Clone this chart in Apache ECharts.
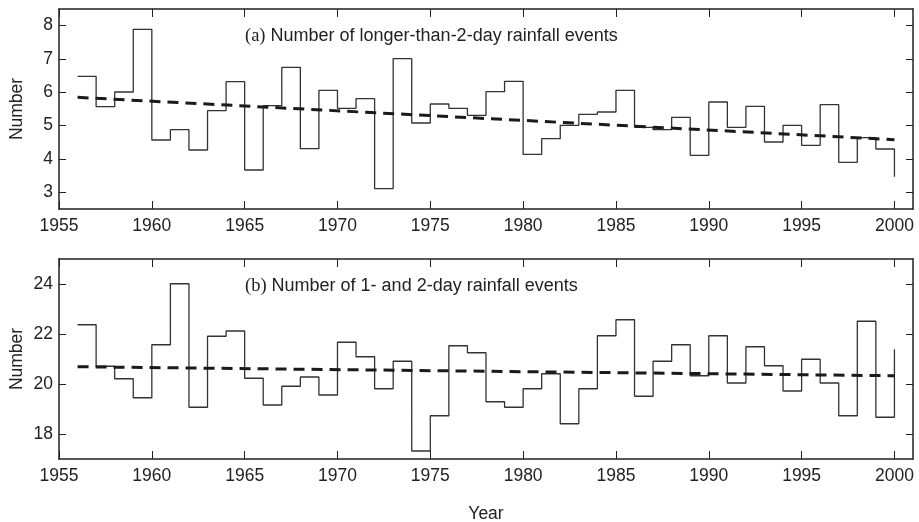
<!DOCTYPE html>
<html>
<head>
<meta charset="utf-8">
<script src="https://cdn.jsdelivr.net/npm/echarts@6/dist/echarts.min.js"></script>
<style>
html,body{margin:0;padding:0;background:#fff;}
#chart{width:919px;height:522px;}
</style>
</head>
<body>
<div id="chart"></div>
<script>
// ---- data ----
const years = [1956,1957,1958,1959,1960,1961,1962,1963,1964,1965,1966,1967,1968,1969,1970,1971,1972,1973,1974,1975,1976,1977,1978,1979,1980,1981,1982,1983,1984,1985,1986,1987,1988,1989,1990,1991,1992,1993,1994,1995,1996,1997,1998,1999,2000];
const longerEvents = [6.48,5.57,6.01,7.89,4.57,4.88,4.27,5.45,6.32,3.67,5.60,6.75,4.31,6.06,5.52,5.81,3.11,7.01,5.08,5.65,5.52,5.31,6.02,6.33,4.14,4.61,5.01,5.34,5.41,6.06,4.95,4.88,5.25,4.11,5.71,4.95,5.58,4.51,5.01,4.41,5.63,3.90,4.64,4.30,3.47];
const shortEvents = [22.37,20.71,20.21,19.45,21.57,24.01,19.07,21.91,22.12,20.23,19.16,19.91,20.28,19.56,21.67,21.09,19.81,20.91,17.32,18.73,21.53,21.25,19.29,19.07,19.81,20.41,18.41,19.81,21.93,22.57,19.51,20.91,21.57,20.33,21.93,20.04,21.49,20.73,19.72,20.99,20.04,18.73,22.51,18.67,21.39];
const trendYears = [1956, 2000];
const trendLonger = [5.85, 4.58];
const trendShort = [20.69, 20.33];
const xTicks = [1955,1960,1965,1970,1975,1980,1985,1990,1995,2000];
const yTicksA = [3,4,5,6,7,8];
const yTicksB = [18,20,22,24];
const titleA = ['(a)', 'Number of longer-than-2-day rainfall events'];
const titleB = ['(b)', 'Number of 1- and 2-day rainfall events'];

// ---- chart ----
const chart = echarts.init(document.getElementById('chart'), null, {renderer: 'canvas'});
const axisColor = '#222';
const fontFam = '"Liberation Sans", Arial, Helvetica, sans-serif';
const tickFont = 17.5;

function xAx(grid, pos, showLabels, name) {
  return {
    type: 'value', gridIndex: grid, position: pos, min: 1955, max: 2001,
    axisLine: {show: true, onZero: false, lineStyle: {color: axisColor, width: 1.5}},
    axisTick: {show: true, inside: true, length: 8, customValues: xTicks, lineStyle: {color: axisColor, width: 1}},
    axisLabel: {show: showLabels, customValues: xTicks, margin: 8, color: axisColor, fontSize: tickFont, fontFamily: fontFam,
      formatter: v => String(v)},
    splitLine: {show: false},
    name: name || '', nameLocation: 'middle', nameGap: 46, nameMoveOverlap: false,
    nameTextStyle: {color: axisColor, fontSize: tickFont, fontFamily: fontFam}
  };
}
function yAx(grid, pos, mn, mx, ticks, showLabels, name) {
  return {
    type: 'value', gridIndex: grid, position: pos, min: mn, max: mx,
    axisLine: {show: true, onZero: false, lineStyle: {color: axisColor, width: 1.5}},
    axisTick: {show: true, inside: true, length: 7, customValues: ticks, lineStyle: {color: axisColor, width: 1}},
    axisLabel: {show: showLabels, customValues: ticks, margin: 6, color: axisColor, fontSize: tickFont, fontFamily: fontFam,
      formatter: v => String(v)},
    splitLine: {show: false},
    name: name || '', nameLocation: 'middle', nameGap: 33, nameRotate: 90, nameMoveOverlap: false,
    nameTextStyle: {color: axisColor, fontSize: tickFont, fontFamily: fontFam}
  };
}

function pairs(xs, ys) { return xs.map((x, i) => [x, ys[i]]); }

function titleObj(parts, top) {
  return {
    text: '{s|' + parts[0] + '} {t|' + parts[1] + '}',
    left: 240, top: top,
    textStyle: {
      fontWeight: 'normal',
      rich: {
        s: {fontFamily: '"Liberation Serif", "Times New Roman", serif', fontSize: 18.5, fontWeight: 'normal', color: '#222'},
        t: {fontFamily: fontFam, fontSize: 18, fontWeight: 'normal', color: '#222'}
      }
    }
  };
}

const option = {
  backgroundColor: '#fff',
  animation: false,
  title: [titleObj(titleA, 22), titleObj(titleB, 272)],
  grid: [
    {left: 59, top: 9, width: 854, height: 200, outerBoundsMode: 'none', containLabel: false},
    {left: 59, top: 259, width: 854, height: 200, outerBoundsMode: 'none', containLabel: false}
  ],
  xAxis: [
    xAx(0, 'bottom', true),
    xAx(0, 'top', false),
    xAx(1, 'bottom', true, 'Year'),
    xAx(1, 'top', false)
  ],
  yAxis: [
    yAx(0, 'left', 2.5, 8.5, yTicksA, true, 'Number'),
    yAx(0, 'right', 2.5, 8.5, yTicksA, false),
    yAx(1, 'left', 17, 25, yTicksB, true, 'Number'),
    yAx(1, 'right', 17, 25, yTicksB, false)
  ],
  series: [
    {type: 'line', xAxisIndex: 0, yAxisIndex: 0, step: 'end', symbol: 'none',
     data: pairs(years, longerEvents), lineStyle: {color: '#333', width: 1.3}},
    {type: 'line', xAxisIndex: 0, yAxisIndex: 0, symbol: 'none',
     data: pairs(trendYears, trendLonger), lineStyle: {color: '#1a1a1a', width: 3, type: [11, 7]}},
    {type: 'line', xAxisIndex: 2, yAxisIndex: 2, step: 'end', symbol: 'none',
     data: pairs(years, shortEvents), lineStyle: {color: '#333', width: 1.3}},
    {type: 'line', xAxisIndex: 2, yAxisIndex: 2, symbol: 'none',
     data: pairs(trendYears, trendShort), lineStyle: {color: '#1a1a1a', width: 3, type: [11, 7]}}
  ]
};
chart.setOption(option);
</script>
</body>
</html>
